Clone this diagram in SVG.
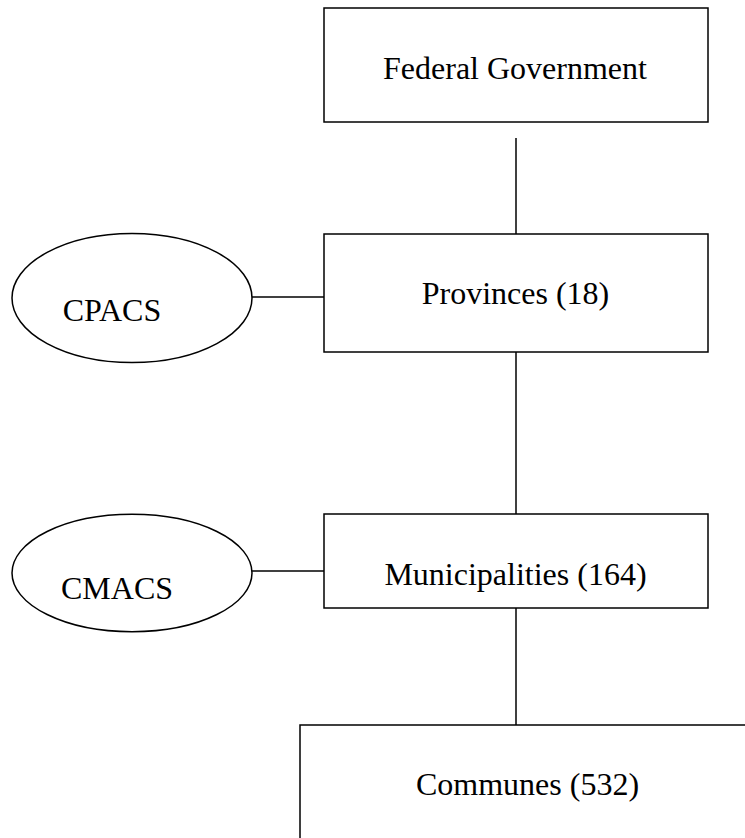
<svg xmlns="http://www.w3.org/2000/svg" width="745" height="838" viewBox="0 0 745 838">
<style>
.box{fill:#fff;stroke:#000;stroke-width:1.5}
.conn{stroke:#000;stroke-width:1.5;fill:none}
.lbl{font-family:"Liberation Serif","Times New Roman",serif;font-size:32px;fill:#000;text-anchor:middle}
</style>
<rect width="745" height="838" fill="#fff"/>
<g id="connectors">
<line class="conn" x1="516" y1="138" x2="516" y2="234"/>
<line class="conn" x1="516" y1="352" x2="516" y2="514"/>
<line class="conn" x1="516" y1="608" x2="516" y2="725"/>
<line class="conn" x1="252" y1="297" x2="324" y2="297"/>
<line class="conn" x1="252" y1="571" x2="324" y2="571"/>
</g>
<g id="federal">
<rect class="box" x="324" y="8" width="384" height="114"/>
<text class="lbl" x="515" y="79">Federal Government</text>
</g>
<g id="provinces">
<rect class="box" x="324" y="234" width="384" height="118"/>
<text class="lbl" x="515.5" y="304">Provinces (18)</text>
</g>
<g id="cpacs">
<ellipse class="box" cx="132" cy="298" rx="120" ry="64.5"/>
<text class="lbl" x="112" y="321">CPACS</text>
</g>
<g id="municipalities">
<rect class="box" x="324" y="514" width="384" height="94"/>
<text class="lbl" x="515.5" y="585">Municipalities (164)</text>
</g>
<g id="cmacs">
<ellipse class="box" cx="132" cy="573" rx="120" ry="58.7"/>
<text class="lbl" x="117" y="599">CMACS</text>
</g>
<g id="communes">
<rect class="box" x="300" y="725" width="500" height="150"/>
<text class="lbl" x="527.5" y="795">Communes (532)</text>
</g>
</svg>
